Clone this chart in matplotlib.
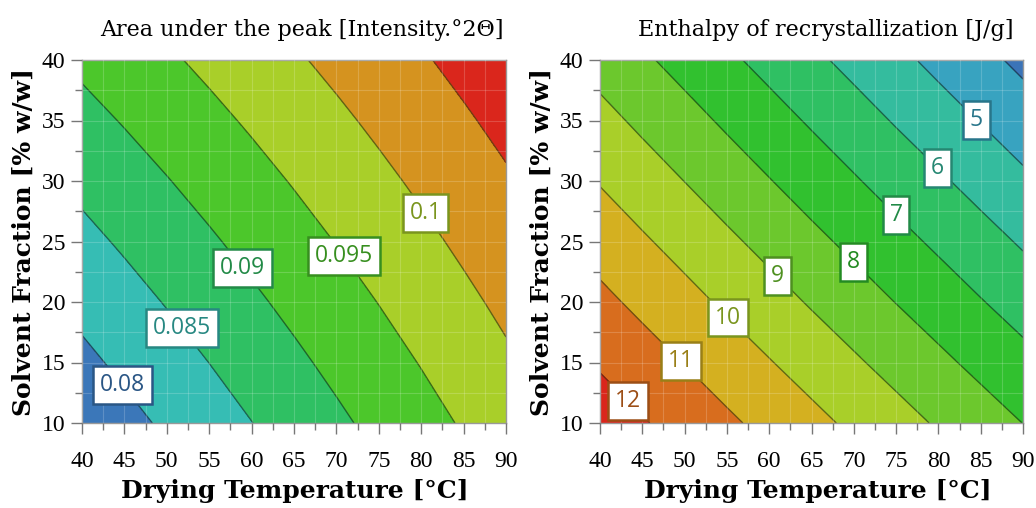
import numpy as np
import matplotlib
matplotlib.use("Agg")
import matplotlib.pyplot as plt
from matplotlib.ticker import MultipleLocator
from matplotlib.colors import to_rgb

# ---------------- data ----------------
temperature = [40, 45, 50, 55, 60, 65, 70, 75, 80, 85, 90]   # Drying Temperature [°C]
solvent = [10, 15, 20, 25, 30, 35, 40]                        # Solvent Fraction [% w/w]

# Area under the peak, rows = solvent fraction, columns = temperature
area_peak = [
    [0.07652, 0.07862, 0.08072, 0.08282, 0.08493, 0.08703, 0.08913, 0.09123, 0.09333, 0.09543, 0.09754],
    [0.07892, 0.08096, 0.08299, 0.08503, 0.08706, 0.08910, 0.09113, 0.09317, 0.09520, 0.09724, 0.09927],
    [0.08132, 0.08329, 0.08526, 0.08723, 0.08920, 0.09116, 0.09313, 0.09510, 0.09707, 0.09904, 0.10100],
    [0.08373, 0.08563, 0.08753, 0.08943, 0.09133, 0.09323, 0.09513, 0.09703, 0.09894, 0.10084, 0.10274],
    [0.08613, 0.08796, 0.08980, 0.09163, 0.09346, 0.09530, 0.09713, 0.09897, 0.10080, 0.10264, 0.10447],
    [0.08853, 0.09030, 0.09206, 0.09383, 0.09560, 0.09737, 0.09913, 0.10090, 0.10267, 0.10444, 0.10621],
    [0.09093, 0.09263, 0.09433, 0.09603, 0.09773, 0.09943, 0.10113, 0.10284, 0.10454, 0.10624, 0.10794],
]

# Enthalpy of recrystallization, rows = solvent fraction, columns = temperature
enthalpy = [
    [12.54, 12.08, 11.63, 11.17, 10.72, 10.27, 9.81, 9.36, 8.90, 8.45, 7.99],
    [11.89, 11.43, 10.97, 10.51, 10.05, 9.59, 9.13, 8.67, 8.21, 7.75, 7.29],
    [11.24, 10.77, 10.31, 9.84, 9.38, 8.91, 8.45, 7.98, 7.52, 7.05, 6.59],
    [10.59, 10.12, 9.65, 9.18, 8.71, 8.24, 7.77, 7.30, 6.83, 6.36, 5.89],
    [9.94, 9.46, 8.99, 8.51, 8.04, 7.56, 7.09, 6.61, 6.14, 5.66, 5.18],
    [9.29, 8.81, 8.33, 7.85, 7.37, 6.89, 6.41, 5.92, 5.44, 4.96, 4.48],
    [8.64, 8.15, 7.67, 7.18, 6.70, 6.21, 5.72, 5.24, 4.75, 4.27, 3.78],
]

area_levels = [0.08, 0.085, 0.09, 0.095, 0.1, 0.105]
area_label_levels = [0.08, 0.085, 0.09, 0.095, 0.1]
enthalpy_levels = [4, 5, 6, 7, 8, 9, 10, 11, 12]
enthalpy_label_levels = [5, 6, 7, 8, 9, 10, 11, 12]

titles = ["Area under the peak [Intensity.°2Θ]", "Enthalpy of recrystallization [J/g]"]
xlabel = "Drying Temperature [°C]"
ylabel = "Solvent Fraction [% w/w]"

# ---------------- styling ----------------
area_fill = ['#3b77b9', '#36bdb4', '#2fc063', '#4cc72b', '#a9cf29', '#d5931f', '#da261c']
enth_fill = ['#3b74b8', '#38a3c0', '#34bc9e', '#2fc063', '#31c12f', '#6cc82d',
             '#a9cf29', '#d4b020', '#d86d1e', '#da261c']

area_label_pos = [(44.6, 13.0), (51.7, 17.8), (58.9, 22.8), (70.8, 23.8), (80.4, 27.3)]
enth_label_pos = [(84.4, 35.0), (79.8, 31.0), (74.9, 27.1), (70.0, 23.3),
                  (60.9, 22.1), (55.1, 18.7), (49.4, 15.0), (43.2, 11.7)]
title_x = [0.519, 0.534]
xlabel_x = [0.502, 0.515]


def darker(c, f):
    r, g, b = to_rgb(c)
    return (r * f, g * f, b * f)


tick_serif = ['Liberation Serif', 'DejaVu Serif']
text_serif = ['DejaVu Serif', 'Liberation Serif']

fig = plt.figure(figsize=(10.36, 5.08), dpi=100)
ax1 = fig.add_axes([82 / 1036, 1 - 423 / 508, 424 / 1036, 363 / 508])
ax2 = fig.add_axes([600 / 1036, 1 - 423 / 508, 423 / 1036, 363 / 508])

T, S = np.meshgrid(temperature, solvent)

panels = [
    (ax1, np.array(area_peak), area_levels, area_label_levels, area_fill,
     area_label_pos, lambda v: f"{v:g}", [0.0] + area_levels + [1.0]),
    (ax2, np.array(enthalpy), enthalpy_levels, enthalpy_label_levels, enth_fill,
     enth_label_pos, lambda v: f"{v:.0f}", [-100] + enthalpy_levels + [100]),
]

for i, (ax, Z, levels, label_levels, fills, label_pos, fmt, fill_levels) in enumerate(panels):
    ax.contourf(T, S, Z, levels=fill_levels, colors=fills)
    line_cols = [darker(fills[k], 0.45) for k in range(len(levels))]
    ax.contour(T, S, Z, levels=levels, colors=line_cols, linewidths=1.0, alpha=0.85)

    # separate (invisible) contour set carrying only the labelled levels
    cs_lab = ax.contour(T, S, Z, levels=label_levels, colors='none', linewidths=0)
    label_cols = {fmt(lv): darker(fills[levels.index(lv)], 0.72) for lv in label_levels}
    texts = ax.clabel(cs_lab, inline=False, fmt=fmt, manual=label_pos, fontsize=16.5)
    for t in texts:
        col = label_cols.get(t.get_text(), 'black')
        t.set_rotation(0)
        t.set_color(col)
        t.set_fontfamily(['Open Sans', 'DejaVu Sans'])
        t.set_bbox(dict(boxstyle='square,pad=0.3', fc='white', ec=col, lw=1.8))
        t.set_zorder(5)

    ax.set_xlim(40, 90)
    ax.set_ylim(10, 40)
    ax.xaxis.set_major_locator(MultipleLocator(5))
    ax.xaxis.set_minor_locator(MultipleLocator(2.5))
    ax.yaxis.set_major_locator(MultipleLocator(5))
    ax.yaxis.set_minor_locator(MultipleLocator(2.5))
    ax.grid(True, which='both', color='white', alpha=0.18, linewidth=0.8)
    ax.set_axisbelow(False)
    ax.tick_params(axis='both', which='major', direction='out', length=8, width=1,
                   color='#777777', labelsize=17)
    ax.tick_params(axis='both', which='minor', direction='out', length=5, width=1,
                   color='#777777')
    ax.tick_params(axis='x', which='major', pad=12)
    ax.tick_params(axis='y', which='major', pad=4)
    for lab in ax.get_xticklabels() + ax.get_yticklabels():
        lab.set_fontfamily(tick_serif)
    for sp in ax.spines.values():
        sp.set_color('#999999')
        sp.set_linewidth(1)
    ax.set_title(titles[i], fontsize=16, family=text_serif, pad=17, x=title_x[i])
    ax.set_xlabel(xlabel, fontsize=18, family=text_serif, fontweight='bold', labelpad=5,
                  x=xlabel_x[i])
    ax.set_ylabel(ylabel, fontsize=18, family=text_serif, fontweight='bold', labelpad=4)

fig.savefig('out.png', dpi=100)
